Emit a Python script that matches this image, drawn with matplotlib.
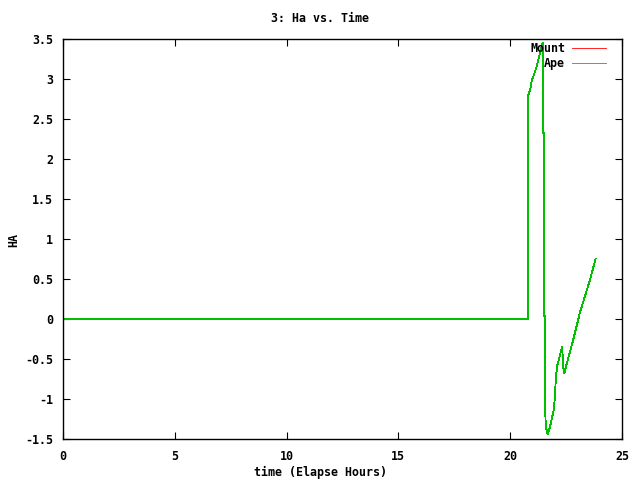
import matplotlib
matplotlib.use("Agg")
import matplotlib.pyplot as plt

# elapsed hours and hour angle
hours = [0.0, 20.78, 20.78, 20.81, 20.81, 20.89, 20.96, 21.18, 21.45, 21.48,
         21.48, 21.52, 21.52, 21.57, 21.57, 21.60, 21.67, 21.78, 21.96, 22.0,
         22.05, 22.1, 22.3, 22.33, 22.37, 22.42, 22.52, 22.82, 23.12, 23.57, 23.82]
ha_mount = [0.0, 0.0, 1.40, 1.40, 2.80, 2.86, 2.97, 3.15, 3.45, 3.45,
            2.32, 2.32, 0.04, 0.04, -1.18, -1.35, -1.44, -1.35, -1.12, -0.97,
            -0.72, -0.59, -0.37, -0.35, -0.60, -0.68, -0.57, -0.26, 0.08, 0.49, 0.75]
ha_ape = list(ha_mount)

xticks = [0, 5, 10, 15, 20, 25]
yticks = [-1.5, -1, -0.5, 0, 0.5, 1, 1.5, 2, 2.5, 3, 3.5]
ytick_labels = ["-1.5", "-1", "-0.5", "0", "0.5", "1", "1.5", "2", "2.5", "3", "3.5"]

plt.rcParams['font.family'] = ['DejaVu Sans Mono']
plt.rcParams['font.weight'] = 'bold'
plt.rcParams['font.size'] = 8.4

fig = plt.figure(figsize=(6.4, 4.8), dpi=100)
ax = fig.add_axes([0.0984, 0.0854, 0.8734, 0.8334])

ax.plot(hours, ha_mount, color='#ff0000', lw=0.6, antialiased=False, label='Mount')
ax.plot(hours, ha_ape, color='#00c000', lw=0.6, antialiased=False, label='Ape')

ax.set_xlim(0, 25)
ax.set_ylim(-1.5, 3.5)
ax.set_xticks(xticks)
ax.set_yticks(yticks)
ax.set_yticklabels(ytick_labels)
ax.tick_params(axis='y', direction='in', right=True, length=5, width=0.8, pad=7)
ax.tick_params(axis='x', direction='in', top=True, length=5, width=0.8, pad=8)
for s in ax.spines.values():
    s.set_linewidth(1.0)

fig.text(0.5, 1 - 472 / 480, 'time (Elapse Hours)', ha='center', va='center')
fig.text(14 / 640, 1 - 240 / 480, 'HA', ha='center', va='center', rotation=90)
fig.text(0.5, 1 - 19 / 480, '3: Ha vs. Time', ha='center', va='center')

leg = ax.legend(loc='upper right', frameon=False, markerfirst=False,
                handlelength=2.9, handletextpad=0.6, borderaxespad=0,
                borderpad=0, labelspacing=0.15,
                bbox_to_anchor=(1 - 16 / 559, 1 - 3 / 400))

fig.savefig('out.png', dpi=100)
